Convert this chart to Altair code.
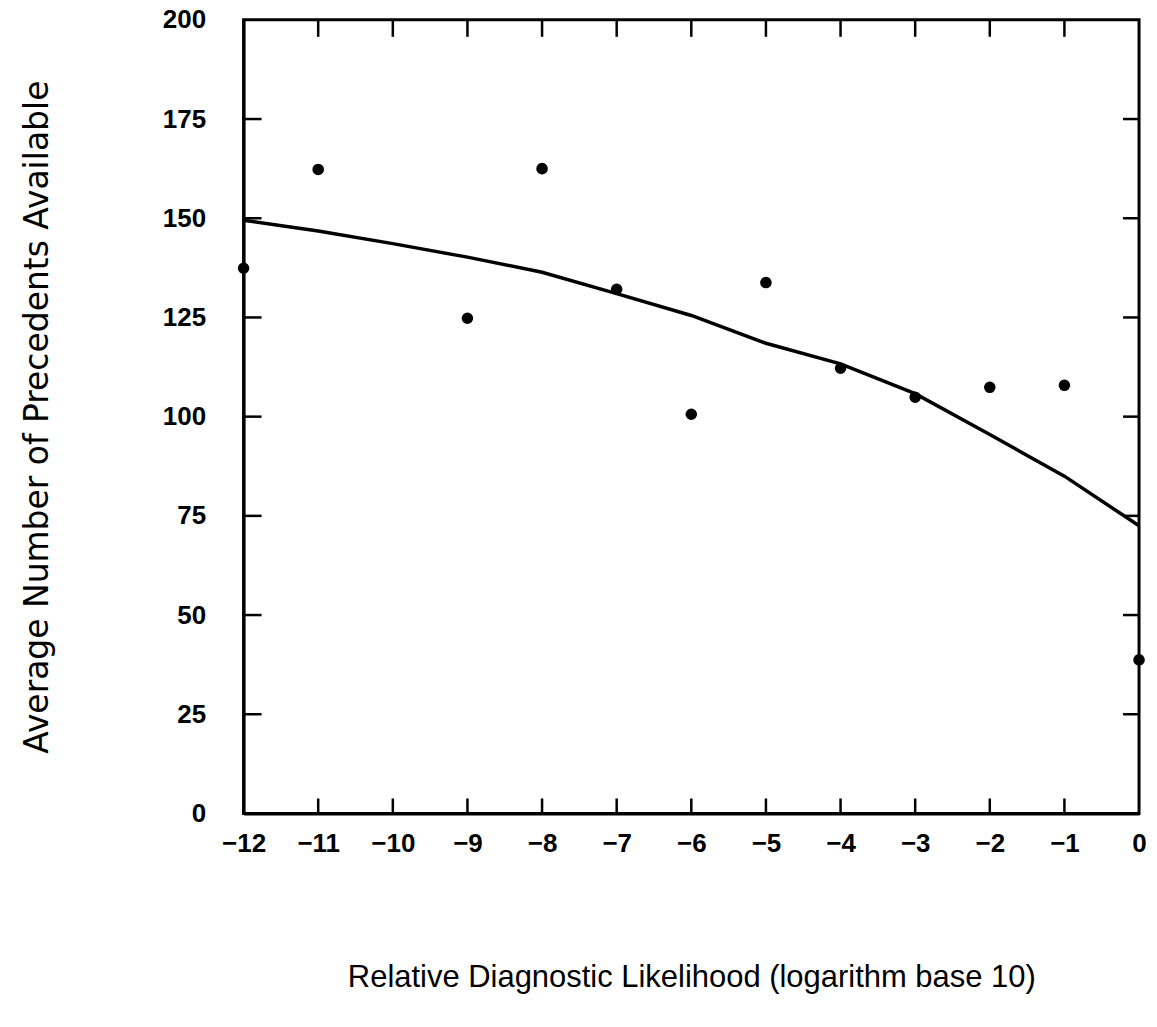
import altair as alt
import pandas as pd

# Observed points
x_pts = [-12, -11, -9, -8, -7, -6, -5, -4, -3, -2, -1, 0]
y_pts = [137.4, 162.3, 124.8, 162.5, 132.1, 100.6, 133.8, 112.2, 104.9, 107.4, 107.9, 38.7]

# Fitted curve
x_fit = [-12, -11, -10, -9, -8, -7, -6, -5, -4, -3, -2, -1, 0]
y_fit = [149.5, 146.8, 143.6, 140.2, 136.4, 131.0, 125.5, 118.5, 113.3, 105.8, 95.5, 85.0, 72.5]

x_ticks = list(range(-12, 1))
y_ticks = [0, 25, 50, 75, 100, 125, 150, 175, 200]

W, H = 897, 795
FONT = "Liberation Sans"

pts = pd.DataFrame({"x": x_pts, "y": y_pts})
fit = pd.DataFrame({"x": x_fit, "y": y_fit})
xt = pd.DataFrame({"t": x_ticks})
yt = pd.DataFrame({"t": y_ticks})

xscale = alt.Scale(domain=[-12, 0], nice=False, zero=False)
yscale = alt.Scale(domain=[0, 200], nice=False)

xaxis = alt.Axis(values=x_ticks, format="d", tickSize=0, labelPadding=17, labelFlush=False,
                 title="Relative Diagnostic Likelihood (logarithm base 10)",
                 titlePadding=106, titleFontSize=31, titleFontWeight="normal",
                 labelFontSize=26, labelFontWeight="bold", grid=False,
                 domainWidth=3, domainColor="black", labelColor="black",
                 titleColor="black", labelFont=FONT, titleFont=FONT)
yaxis = alt.Axis(values=y_ticks, format="d", tickSize=0, labelPadding=38, labelFlush=False,
                 title="Average Number of Precedents  Available",
                 titlePadding=108, titleFontSize=33, titleFontWeight="normal",
                 labelFontSize=26, labelFontWeight="bold", grid=False,
                 domainWidth=3, domainColor="black", labelColor="black",
                 titleColor="black", labelFont=FONT, titleFont="DejaVu Sans")

line = alt.Chart(fit).mark_line(color="black", strokeWidth=3.5).encode(
    x=alt.X("x:Q", scale=xscale, axis=xaxis),
    y=alt.Y("y:Q", scale=yscale, axis=yaxis),
)
dots = alt.Chart(pts).mark_circle(color="black", opacity=1, size=135).encode(
    x=alt.X("x:Q", scale=xscale),
    y=alt.Y("y:Q", scale=yscale),
)

tick_top = alt.Chart(xt[(xt.t > -12) & (xt.t < 0)]).mark_rule(color="black", strokeWidth=2.5).encode(
    x=alt.X("t:Q", scale=xscale), y=alt.value(0), y2=alt.value(17))
tick_bot = alt.Chart(xt[(xt.t > -12) & (xt.t < 0)]).mark_rule(color="black", strokeWidth=2.5).encode(
    x=alt.X("t:Q", scale=xscale), y=alt.value(H), y2=alt.value(H - 15))
tick_left = alt.Chart(yt[(yt.t > 0) & (yt.t < 200)]).mark_rule(color="black", strokeWidth=2.5).encode(
    y=alt.Y("t:Q", scale=yscale), x=alt.value(0), x2=alt.value(18))
tick_right = alt.Chart(yt[(yt.t > 0) & (yt.t < 200)]).mark_rule(color="black", strokeWidth=2.5).encode(
    y=alt.Y("t:Q", scale=yscale), x=alt.value(W - 16), x2=alt.value(W))

chart = alt.layer(tick_top, tick_bot, tick_left, tick_right, line, dots).properties(
    width=W, height=H, padding={"left": 21, "top": 6, "right": 10, "bottom": 10},
    background="white",
).configure_view(stroke="black", strokeWidth=3)

chart.save("out.html", embed_options={"renderer": "svg", "actions": False})
